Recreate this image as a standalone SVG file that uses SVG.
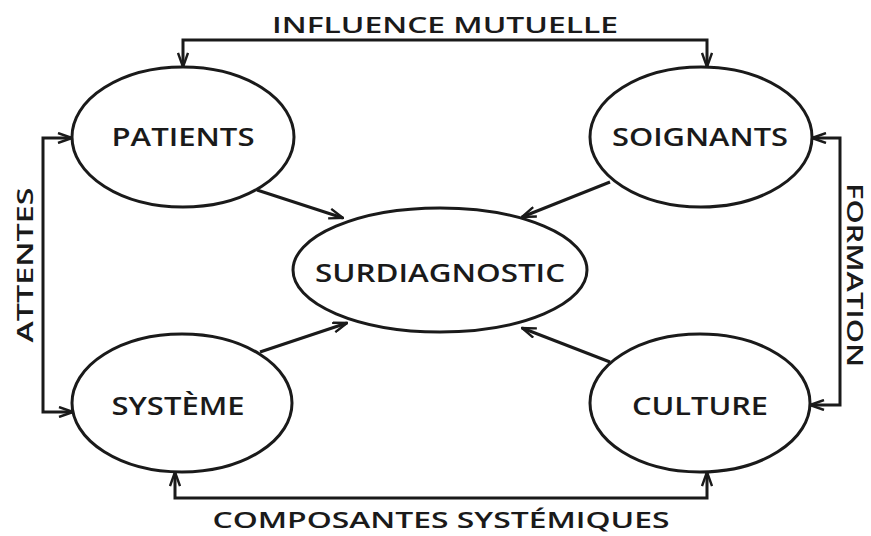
<svg xmlns="http://www.w3.org/2000/svg" width="871" height="536" viewBox="0 0 871 536">
<style>
.node{fill:#fff;stroke:#1a1a1a;stroke-width:3}
.lbl{font-family:"Open Sans","Liberation Sans",sans-serif;font-weight:600;fill:#1a1a1a;text-anchor:middle}
.con{fill:none;stroke:#1a1a1a;stroke-width:3;marker-end:url(#ah)}
.dbl{marker-start:url(#ah)}
</style>
<defs>
<marker id="ah" viewBox="0 0 16 12" refX="15" refY="6" markerWidth="16" markerHeight="12" markerUnits="userSpaceOnUse" orient="auto-start-reverse">
<path d="M1,1 L15,6 L1,11" fill="none" stroke="#1a1a1a" stroke-width="2.4"/>
</marker>
</defs>
<g id="connectors">
<path class="con dbl" d="M183,67 V40 H707 V67"/>
<path class="con dbl" d="M72,138 H43 V412 H73"/>
<path class="con dbl" d="M812,138 H840 V405 H810"/>
<path class="con dbl" d="M175,472 V498 H707 V472"/>
<path class="con" d="M257,190 L343,218"/>
<path class="con" d="M610,182 L522,217"/>
<path class="con" d="M260,352 L347,323"/>
<path class="con" d="M610,362 L522,328"/>
<text class="lbl" x="445" y="33" font-size="22" textLength="346" lengthAdjust="spacingAndGlyphs">INFLUENCE MUTUELLE</text>
<text class="lbl" x="441" y="528" font-size="22" textLength="457" lengthAdjust="spacingAndGlyphs">COMPOSANTES SYSTÉMIQUES</text>
<text class="lbl" font-size="22" transform="translate(33,265) rotate(-90)" textLength="155" lengthAdjust="spacingAndGlyphs">ATTENTES</text>
<text class="lbl" font-size="22" transform="translate(847,275) rotate(90)" textLength="184" lengthAdjust="spacingAndGlyphs">FORMATION</text>
</g>
<g id="patients">
<ellipse class="node" cx="183" cy="137" rx="111" ry="70"/>
<text class="lbl" x="183" y="146" font-size="25" textLength="143" lengthAdjust="spacingAndGlyphs">PATIENTS</text>
</g>
<g id="soignants">
<ellipse class="node" cx="701" cy="137" rx="111" ry="70"/>
<text class="lbl" x="700" y="146" font-size="25" textLength="176" lengthAdjust="spacingAndGlyphs">SOIGNANTS</text>
</g>
<g id="surdiagnostic">
<ellipse class="node" cx="440" cy="270" rx="147" ry="62"/>
<text class="lbl" x="440" y="282" font-size="26" textLength="250" lengthAdjust="spacingAndGlyphs">SURDIAGNOSTIC</text>
</g>
<g id="systeme">
<ellipse class="node" cx="182" cy="403" rx="110" ry="69"/>
<text class="lbl" x="178" y="415" font-size="25" textLength="133" lengthAdjust="spacingAndGlyphs">SYSTÈME</text>
</g>
<g id="culture">
<ellipse class="node" cx="700" cy="403" rx="110" ry="69"/>
<text class="lbl" x="700" y="415" font-size="25" textLength="136" lengthAdjust="spacingAndGlyphs">CULTURE</text>
</g>
</svg>
